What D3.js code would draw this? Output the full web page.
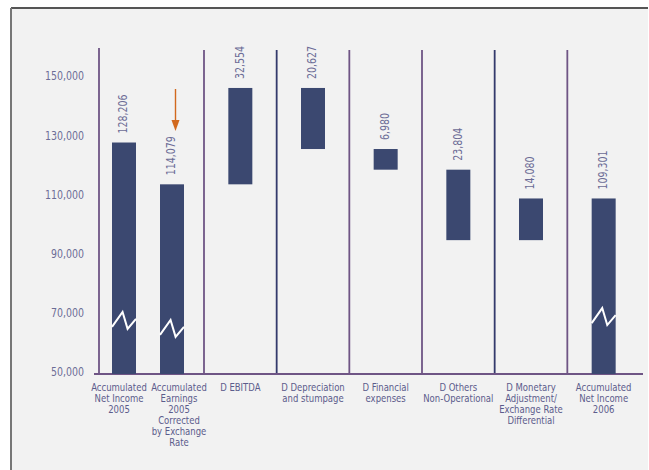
<!DOCTYPE html>
<html>
<head>
<meta charset="utf-8">
<script src="https://cdn.jsdelivr.net/npm/d3@7/dist/d3.min.js"></script>
<style>
  body { margin: 0; background: #fff; }
  text { font-family: "DejaVu Sans Condensed", "DejaVu Sans", sans-serif; }
</style>
</head>
<body>
<div id="chart"></div>
<script>
// waterfall of net income 2005 -> 2006

var categories = [
  ["Accumulated", "Net Income", "2005"],
  ["Accumulated", "Earnings", "2005", "Corrected", "by Exchange", "Rate"],
  ["D EBITDA"],
  ["D Depreciation", "and stumpage"],
  ["D Financial", "expenses"],
  ["D Others", "Non-Operational"],
  ["D Monetary", "Adjustment/", "Exchange Rate", "Differential"],
  ["Accumulated", "Net Income", "2006"]
];
// "total" bars start at the axis, "step" bars float from the running total
var barKinds = ["total", "total", "step", "step", "step", "step", "step", "total"];
var barValues = [128206, 114079, 32554, -20627, -6980, -23804, 14080, 109301];
var valueLabels = ["128,206", "114,079", "32,554", "20,627", "6,980", "23,804", "14,080", "109,301"];
// axis break drawn on the long bars (value where the zigzag sits)
var breakAt = [67600, 64900, null, null, null, null, null, 68900];
var yTicks = [50000, 70000, 90000, 110000, 130000, 150000];

var width = 649, height = 470;
var squeeze = 0.84; // the original face is a narrow one

var svg = d3.select("#chart").append("svg")
  .attr("width", width)
  .attr("height", height);

// page frame
svg.append("rect")
  .attr("x", 11).attr("y", 8)
  .attr("width", width - 12).attr("height", height - 8)
  .style("fill", "#f2f2f2");
svg.append("line")
  .attr("x1", 11).attr("x2", width - 1).attr("y1", 8).attr("y2", 8)
  .style("stroke", "#555").style("stroke-width", 2);
svg.append("line")
  .attr("x1", 11).attr("x2", 11).attr("y1", 8).attr("y2", height)
  .style("stroke", "#777").style("stroke-width", 2);

var y = d3.scaleLinear().domain([50000, 150000]).range([374, 78]);
// column boundaries: first column holds the two opening bars
var xCol = d3.scaleLinear().domain([0, 1, 7]).range([99, 204, 640]);

function barCenter(i){
  if(i === 0) return xCol(0) + 25;
  if(i === 1) return xCol(1) - 32;
  return xCol(i - 1 + 0.5);
}
function labelCenter(i){
  if(i === 0) return xCol(0) + 20;
  if(i === 1) return xCol(1) - 25;
  return xCol(i - 1 + 0.5);
}

// running totals -> bar extents
var bars = [];
var running = 0;
barValues.forEach(function(v, i){
  var lo, hi;
  if(barKinds[i] == "total"){
    running = v;
    lo = 50000; hi = v;
  }
  else {
    var next = running + v;
    lo = Math.min(running, next); hi = Math.max(running, next);
    running = next;
  }
  bars.push({i: i, lo: lo, hi: hi, label: valueLabels[i], brk: breakAt[i]});
});

// column separators
var sepColors = ["#6f5585", "#6f5585", "#343a6c", "#6f5585", "#6f5585", "#343a6c", "#6f5585"];
d3.range(7).forEach(function(c){
  svg.append("line")
    .attr("x1", xCol(c)).attr("x2", xCol(c))
    .attr("y1", c === 0 ? 48 : 50).attr("y2", y(50000))
    .style("stroke", sepColors[c])
    .style("stroke-width", 1.8);
});

// baseline
svg.append("line")
  .attr("x1", 94).attr("x2", 643)
  .attr("y1", y(50000)).attr("y2", y(50000))
  .style("stroke", "#6f5585")
  .style("stroke-width", 1.8);

// y tick labels
svg.selectAll(".tick")
  .data(yTicks)
  .enter().append("text")
  .attr("class", "tick")
  .attr("transform", function(d){ return "translate(84," + (y(d) - 2) + ") scale(" + squeeze + ",1)"; })
  .attr("dy", "0.35em")
  .attr("text-anchor", "end")
  .style("font-size", "12.5px")
  .style("fill", "#6c6c96")
  .text(d3.format(","));

var barWidth = 24;
var g = svg.selectAll(".bar")
  .data(bars)
  .enter().append("g")
  .attr("class", "bar");

g.append("rect")
  .attr("x", function(d){ return barCenter(d.i) - barWidth/2; })
  .attr("y", function(d){ return y(d.hi); })
  .attr("width", barWidth)
  .attr("height", function(d){ return y(d.lo) - y(d.hi); })
  .style("fill", "#3b4870");

// zigzag breaks
g.filter(function(d){ return d.brk !== null; })
  .append("path")
  .attr("d", function(d){
    var x0 = barCenter(d.i) - barWidth/2, yc = y(d.brk);
    var pts = [[0, 5], [0.44, -10], [0.65, 7], [1, -3]];
    return d3.line()(pts.map(function(p){ return [x0 + p[0]*barWidth, yc + p[1]]; }));
  })
  .style("fill", "none")
  .style("stroke", "#fff")
  .style("stroke-width", 2);

// value labels, rotated
g.append("text")
  .attr("transform", function(d){
    return "translate(" + (barCenter(d.i) - 1) + "," + (y(d.hi) - 9) + ") rotate(-90) scale(" + squeeze + ",1)";
  })
  .attr("dy", "0.35em")
  .attr("text-anchor", "start")
  .style("font-size", "12.5px")
  .style("fill", "#6c6c96")
  .text(function(d){ return d.label; });

// category labels
categories.forEach(function(lines, i){
  var t = svg.append("text")
    .attr("transform", "translate(" + labelCenter(i) + ",391) scale(0.86,1)")
    .attr("text-anchor", "middle")
    .style("font-size", "11px")
    .style("fill", "#5c5c8c");
  lines.forEach(function(s, k){
    t.append("tspan")
      .attr("x", 0)
      .attr("dy", k === 0 ? 0 : 11)
      .text(s);
  });
});

// orange arrow over the corrected bar
var ax = barCenter(1) + 3.5;
svg.append("line")
  .attr("x1", ax).attr("x2", ax)
  .attr("y1", 89).attr("y2", 121)
  .style("stroke", "#d2691e")
  .style("stroke-width", 1.4);
svg.append("path")
  .attr("d", d3.line()([[ax - 4, 120], [ax + 4, 120], [ax, 131]]) + "Z")
  .style("fill", "#d2691e");
</script>
</body>
</html>
